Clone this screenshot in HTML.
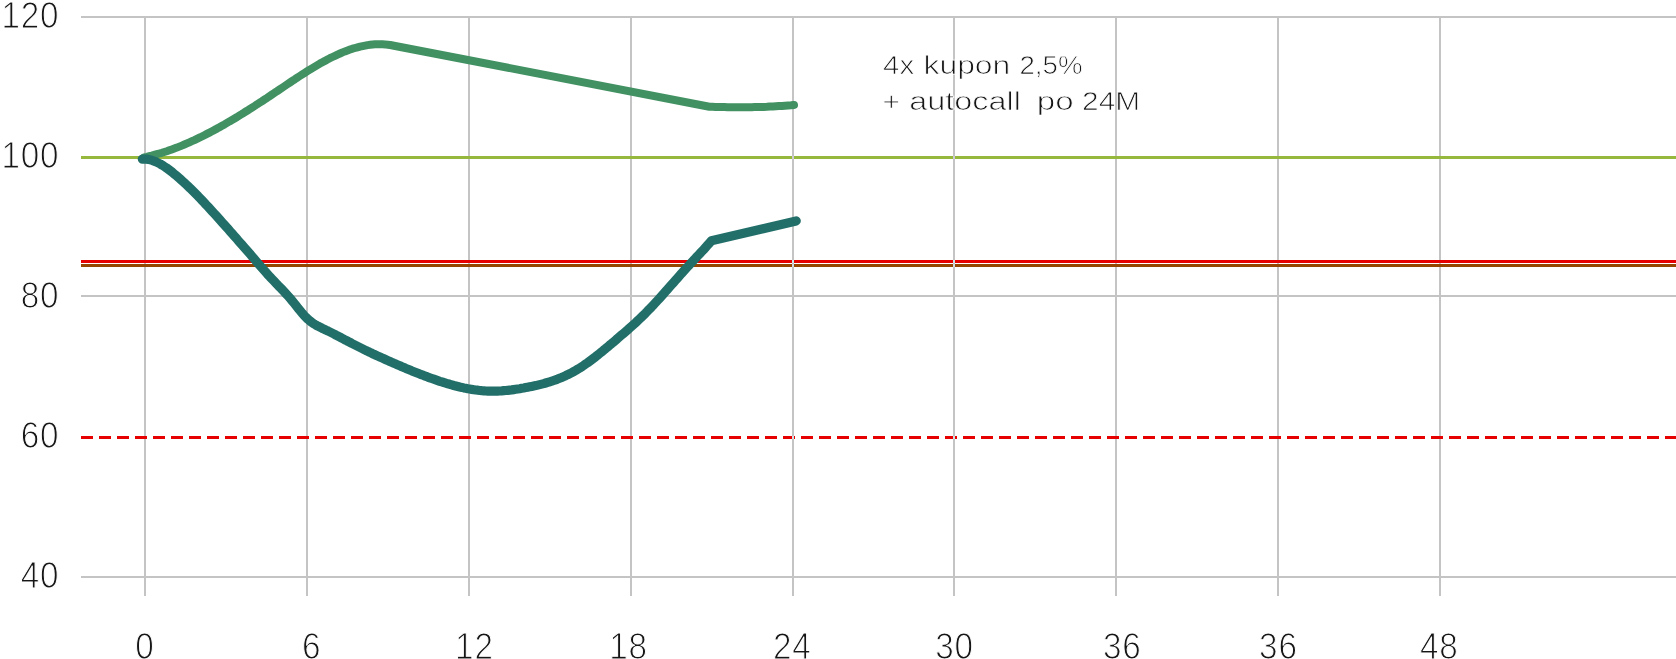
<!DOCTYPE html>
<html lang="pl">
<head>
<meta charset="utf-8">
<title>Wykres</title>
<style>
html,body{margin:0;padding:0;background:#ffffff;}
body{width:1676px;height:659px;overflow:hidden;}
svg{display:block;}
text{font-family:"Liberation Sans",sans-serif;fill:#161616;stroke:#ffffff;}
.ax,.an{filter:grayscale(1);}
.ax text{font-size:37.8px;letter-spacing:0.9px;stroke-width:1.1px;}
.an text{font-size:25px;stroke-width:0.75px;}
</style>
</head>
<body>
<svg width="1676" height="659" viewBox="0 0 1676 659">
<rect x="0" y="0" width="1676" height="659" fill="#ffffff"/>
<g id="grid-h" fill="#c4c4c4">
<rect x="81" y="16" width="1595" height="2"/>
<rect x="81" y="295" width="1595" height="2"/>
<rect x="81" y="576" width="1595" height="2"/>
</g>
<g id="grid-v" fill="#c4c4c4">
<rect x="144" y="17" width="2" height="579"/>
<rect x="306" y="17" width="2" height="579"/>
<rect x="468" y="17" width="2" height="579"/>
<rect x="630" y="17" width="2" height="579"/>
<rect x="792" y="17" width="2" height="579"/>
<rect x="953" y="17" width="2" height="579"/>
<rect x="1115" y="17" width="2" height="579"/>
<rect x="1277" y="17" width="2" height="579"/>
<rect x="1439" y="17" width="2" height="579"/>
</g>
<g id="levels">
<rect x="81" y="156" width="1595" height="3" fill="#96b83d"/>
<rect x="81" y="260" width="1595" height="3" fill="#e60000"/>
<rect x="81" y="264" width="1595" height="3" fill="#954600"/>
<line x1="81" y1="437.5" x2="1676" y2="437.5" stroke="#e60000" stroke-width="3" stroke-dasharray="12 6"/>
</g>
<g id="grid-v-top">
<rect x="792" y="156" width="2" height="3" fill="#cdc9d6"/>
<rect x="792" y="260" width="2" height="3" fill="#cbe3e4"/>
<rect x="792" y="264" width="2" height="3" fill="#d0d8e6"/>
<rect x="792" y="436" width="2" height="3" fill="#cbe3e4"/>
<rect x="953" y="156" width="2" height="3" fill="#cdc9d6"/>
<rect x="953" y="260" width="2" height="3" fill="#cbe3e4"/>
<rect x="953" y="264" width="2" height="3" fill="#d0d8e6"/>
<rect x="953" y="436" width="2" height="3" fill="#cbe3e4"/>
</g>
<g id="series" fill="none" stroke-width="8" stroke-linecap="round" stroke-linejoin="round">
<path stroke="#419162" d="M144.2,157.3 L146.7,156.8 L149.2,156.2 L151.7,155.6 L154.2,154.9 L156.8,154.2 L159.3,153.5 L161.8,152.8 L164.3,152.0 L166.8,151.2 L169.3,150.3 L171.8,149.4 L174.3,148.5 L176.8,147.6 L179.3,146.6 L181.8,145.6 L184.4,144.5 L186.9,143.4 L189.4,142.3 L191.9,141.2 L194.4,140.1 L196.9,138.9 L199.4,137.7 L201.9,136.5 L204.4,135.2 L206.9,133.9 L209.5,132.6 L212.0,131.3 L214.5,129.9 L217.0,128.6 L219.5,127.2 L222.0,125.8 L224.5,124.4 L227.0,122.9 L229.5,121.4 L232.0,120.0 L234.6,118.5 L237.1,117.0 L239.6,115.4 L242.1,113.9 L244.6,112.3 L247.1,110.8 L249.6,109.2 L252.1,107.6 L254.6,106.0 L257.1,104.3 L259.7,102.7 L262.2,101.1 L264.7,99.4 L267.2,97.8 L269.7,96.1 L272.2,94.4 L274.7,92.7 L277.2,91.1 L279.7,89.4 L282.2,87.7 L284.8,86.0 L287.3,84.3 L289.8,82.6 L292.3,80.9 L294.8,79.3 L297.3,77.6 L299.8,76.0 L302.3,74.4 L304.8,72.8 L307.3,71.2 L309.9,69.6 L312.4,68.1 L314.9,66.6 L317.4,65.1 L319.9,63.6 L322.4,62.2 L324.9,60.9 L327.4,59.5 L329.9,58.2 L332.4,57.0 L335.0,55.8 L337.5,54.6 L340.0,53.5 L342.5,52.4 L345.0,51.4 L347.5,50.5 L350.0,49.6 L352.5,48.7 L355.0,48.0 L357.5,47.3 L360.1,46.6 L362.6,46.1 L365.1,45.6 L367.6,45.1 L370.1,44.8 L372.6,44.5 L375.1,44.3 L377.6,44.2 L380.1,44.2 L382.6,44.3 L385.2,44.4 L387.7,44.7 L390.2,45.0 L392.7,45.5 L395.2,46.0 L709.4,106.7 L712.4,106.8 L715.4,106.9 L718.5,107.0 L721.5,107.1 L724.5,107.1 L727.5,107.2 L730.5,107.2 L733.6,107.3 L736.6,107.3 L739.6,107.3 L742.6,107.3 L745.7,107.3 L748.7,107.3 L751.7,107.2 L754.7,107.1 L757.7,107.1 L760.8,107.0 L763.8,106.9 L766.8,106.8 L769.8,106.6 L772.9,106.5 L775.9,106.3 L778.9,106.1 L781.9,105.9 L784.9,105.7 L788.0,105.5 L791.0,105.3 L794.0,105.0"/>
<path stroke="#226f6a" stroke-width="9.2" d="M142.3,159.1 L144.3,159.0 L146.3,159.2 L148.3,159.4 L150.3,159.9 L152.3,160.4 L154.3,161.2 L156.3,162.0 L158.3,163.0 L160.3,164.0 L162.3,165.2 L164.3,166.5 L166.3,167.8 L168.3,169.3 L170.3,170.8 L172.3,172.3 L174.2,173.9 L176.2,175.6 L178.2,177.3 L180.2,179.0 L182.2,180.8 L184.2,182.6 L186.2,184.5 L188.2,186.4 L190.2,188.3 L192.2,190.3 L194.2,192.3 L196.2,194.3 L198.2,196.3 L200.2,198.4 L202.2,200.5 L204.2,202.6 L206.2,204.8 L208.2,206.9 L210.2,209.1 L212.2,211.3 L214.2,213.5 L216.2,215.7 L218.2,217.9 L220.2,220.1 L222.2,222.4 L224.2,224.6 L226.2,226.8 L228.2,229.1 L230.2,231.4 L232.2,233.6 L234.2,235.9 L236.2,238.1 L238.1,240.4 L240.1,242.7 L242.1,244.9 L244.1,247.2 L246.1,249.5 L248.1,251.8 L250.1,254.1 L252.1,256.4 L254.1,258.7 L256.1,261.1 L258.1,263.4 L260.1,265.7 L262.1,268.0 L264.1,270.3 L266.1,272.6 L268.1,274.8 L270.1,277.0 L272.1,279.1 L274.1,281.2 L276.1,283.3 L278.1,285.4 L280.1,287.4 L282.1,289.5 L284.1,291.6 L286.1,293.8 L288.1,296.0 L290.1,298.3 L292.1,300.7 L294.1,303.1 L296.1,305.6 L298.1,308.2 L300.1,310.6 L302.0,313.0 L304.0,315.3 L306.0,317.4 L308.0,319.3 L310.0,321.0 L312.0,322.5 L314.0,323.9 L316.0,325.1 L318.0,326.2 L320.0,327.2 L322.0,328.2 L324.0,329.1 L326.0,330.1 L328.0,331.0 L330.0,332.0 L332.0,333.0 L334.0,334.0 L336.0,335.1 L338.0,336.1 L340.0,337.1 L342.0,338.2 L344.0,339.3 L346.0,340.3 L348.0,341.4 L350.0,342.4 L352.0,343.5 L354.0,344.5 L356.0,345.5 L358.0,346.5 L360.0,347.5 L362.0,348.5 L363.9,349.5 L365.9,350.5 L367.9,351.4 L369.9,352.4 L371.9,353.3 L373.9,354.3 L375.9,355.2 L377.9,356.1 L379.9,357.0 L381.9,357.9 L383.9,358.8 L385.9,359.7 L387.9,360.6 L389.9,361.5 L391.9,362.4 L393.9,363.3 L395.9,364.1 L397.9,365.0 L399.9,365.8 L401.9,366.7 L403.9,367.5 L405.9,368.4 L407.9,369.2 L409.9,370.0 L411.9,370.9 L413.9,371.7 L415.9,372.5 L417.9,373.3 L419.9,374.1 L421.9,374.8 L423.9,375.6 L425.9,376.3 L427.8,377.1 L429.8,377.8 L431.8,378.5 L433.8,379.2 L435.8,379.9 L437.8,380.6 L439.8,381.3 L441.8,381.9 L443.8,382.5 L445.8,383.2 L447.8,383.8 L449.8,384.3 L451.8,384.9 L453.8,385.5 L455.8,386.0 L457.8,386.5 L459.8,387.0 L461.8,387.4 L463.8,387.9 L465.8,388.3 L467.8,388.7 L469.8,389.0 L471.8,389.4 L473.8,389.7 L475.8,390.0 L477.8,390.2 L479.8,390.5 L481.8,390.7 L483.8,390.8 L485.8,391.0 L487.8,391.1 L489.8,391.1 L491.7,391.2 L493.7,391.2 L495.7,391.1 L497.7,391.1 L499.7,391.0 L501.7,390.9 L503.7,390.7 L505.7,390.5 L507.7,390.3 L509.7,390.1 L511.7,389.9 L513.7,389.6 L515.7,389.3 L517.7,389.0 L519.7,388.7 L521.7,388.3 L523.7,388.0 L525.7,387.6 L527.7,387.2 L529.7,386.8 L531.7,386.4 L533.7,386.0 L535.7,385.6 L537.7,385.1 L539.7,384.6 L541.7,384.1 L543.7,383.6 L545.7,383.0 L547.7,382.4 L549.7,381.8 L551.7,381.2 L553.6,380.5 L555.6,379.8 L557.6,379.1 L559.6,378.3 L561.6,377.5 L563.6,376.6 L565.6,375.7 L567.6,374.7 L569.6,373.8 L571.6,372.7 L573.6,371.6 L575.6,370.5 L577.6,369.3 L579.6,368.1 L581.6,366.8 L583.6,365.5 L585.6,364.1 L587.6,362.7 L589.6,361.2 L591.6,359.7 L593.6,358.2 L595.6,356.7 L597.6,355.1 L599.6,353.5 L601.6,351.9 L603.6,350.2 L605.6,348.6 L607.6,346.9 L609.6,345.2 L611.6,343.6 L613.6,341.9 L615.6,340.2 L617.5,338.5 L619.5,336.8 L621.5,335.1 L623.5,333.4 L625.5,331.7 L627.5,330.0 L629.5,328.2 L631.5,326.4 L633.5,324.6 L635.5,322.8 L637.5,320.9 L639.5,319.0 L641.5,317.1 L643.5,315.2 L645.5,313.2 L647.5,311.1 L649.5,309.1 L651.5,307.0 L653.5,304.8 L655.5,302.7 L657.5,300.5 L659.5,298.3 L661.5,296.1 L663.5,293.9 L665.5,291.6 L667.5,289.4 L669.5,287.1 L671.5,284.8 L673.5,282.6 L675.5,280.3 L677.5,278.1 L679.5,275.8 L681.4,273.6 L683.4,271.4 L685.4,269.2 L687.4,267.0 L689.4,264.8 L691.4,262.7 L693.4,260.5 L695.4,258.4 L697.4,256.2 L699.4,254.1 L701.4,251.9 L703.4,249.8 L705.4,247.6 L707.4,245.3 L709.4,243.1 L711.4,240.8 L796.2,220.9"/>
</g>
<g id="labels-y" class="ax">
<text x="1.4" y="27.7" textLength="57.9" lengthAdjust="spacingAndGlyphs">120</text>
<text x="1.4" y="167.7" textLength="57.9" lengthAdjust="spacingAndGlyphs">100</text>
<text x="20.7" y="307.7" textLength="38.6" lengthAdjust="spacingAndGlyphs">80</text>
<text x="20.7" y="447.7" textLength="38.6" lengthAdjust="spacingAndGlyphs">60</text>
<text x="20.7" y="587.7" textLength="38.6" lengthAdjust="spacingAndGlyphs">40</text>
</g>
<g id="labels-x" class="ax">
<text x="135.2" y="658.8" textLength="19.3" lengthAdjust="spacingAndGlyphs">0</text>
<text x="301.9" y="658.8" textLength="19.3" lengthAdjust="spacingAndGlyphs">6</text>
<text x="455.1" y="658.8" textLength="38.6" lengthAdjust="spacingAndGlyphs">12</text>
<text x="609.3" y="658.8" textLength="38.6" lengthAdjust="spacingAndGlyphs">18</text>
<text x="772.9" y="658.8" textLength="38.6" lengthAdjust="spacingAndGlyphs">24</text>
<text x="935.3" y="658.8" textLength="38.6" lengthAdjust="spacingAndGlyphs">30</text>
<text x="1102.9" y="658.8" textLength="38.6" lengthAdjust="spacingAndGlyphs">36</text>
<text x="1259.1" y="658.8" textLength="38.6" lengthAdjust="spacingAndGlyphs">36</text>
<text x="1420.0" y="658.8" textLength="38.6" lengthAdjust="spacingAndGlyphs">48</text>
</g>
<g id="note" class="an">
<text y="74"><tspan x="883.1" textLength="31.2" lengthAdjust="spacingAndGlyphs">4x</tspan> <tspan x="923.5" textLength="86.8" lengthAdjust="spacingAndGlyphs">kupon</tspan> <tspan x="1019.5" textLength="63.0" lengthAdjust="spacingAndGlyphs">2,5%</tspan></text>
<text y="109.5"><tspan x="882.6" textLength="17.6" lengthAdjust="spacingAndGlyphs">+</tspan> <tspan x="909.3" textLength="111.7" lengthAdjust="spacingAndGlyphs">autocall</tspan>  <tspan x="1036.8" textLength="36.8" lengthAdjust="spacingAndGlyphs">po</tspan> <tspan x="1082.1" textLength="58.0" lengthAdjust="spacingAndGlyphs">24M</tspan></text>
</g>
</svg>
</body>
</html>
